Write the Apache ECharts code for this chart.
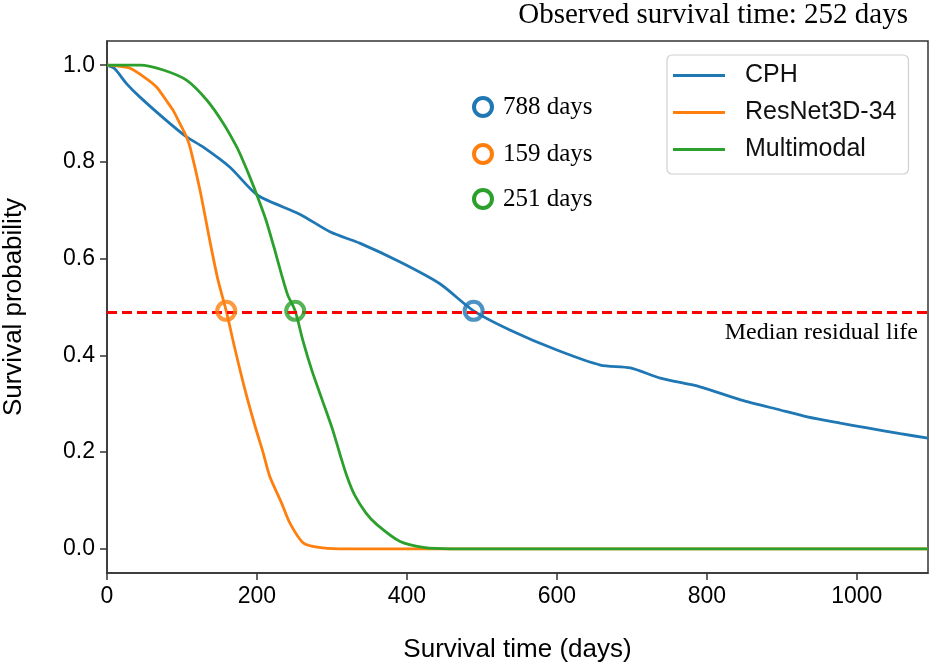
<!DOCTYPE html>
<html>
<head>
<meta charset="utf-8">
<script src="https://cdn.jsdelivr.net/npm/echarts@6/dist/echarts.min.js"></script>
<style>html,body{margin:0;padding:0;background:#fff}#c{width:943px;height:670px}</style>
</head>
<body>
<div id="c"></div>
<script>
// ---- data ----
var seriesNames = ['CPH', 'ResNet3D-34', 'Multimodal'];
var cphDays = [0, 10, 26, 44, 79, 106, 128, 164, 201, 257, 298, 337, 391, 444, 489, 538, 600, 658, 698, 738, 791, 845, 898, 934, 978, 1014, 1058, 1095];
var cphSurv = [1.0, 0.993, 0.962, 0.934, 0.886, 0.852, 0.831, 0.789, 0.731, 0.692, 0.655, 0.632, 0.593, 0.548, 0.492, 0.452, 0.411, 0.380, 0.374, 0.353, 0.335, 0.308, 0.287, 0.273, 0.260, 0.250, 0.238, 0.229];
var resDays = [0, 15, 30, 50, 66, 80, 88, 97, 106, 111, 124, 137, 148, 159, 171, 184, 197, 208, 217, 233, 244, 262, 288, 320, 1095];
var resSurv = [1.0, 0.998, 0.994, 0.975, 0.955, 0.925, 0.907, 0.880, 0.852, 0.829, 0.742, 0.638, 0.556, 0.492, 0.411, 0.329, 0.256, 0.200, 0.150, 0.094, 0.053, 0.012, 0.002, 0.0, 0.0];
var mmDays = [0, 44, 75, 106, 133, 155, 173, 181, 191, 201, 212, 223, 233, 241, 251, 261, 273, 287, 301, 311, 320, 330, 345, 360, 391, 422, 458, 1095];
var mmSurv = [1.0, 1.0, 0.99, 0.969, 0.928, 0.880, 0.831, 0.804, 0.767, 0.727, 0.680, 0.622, 0.566, 0.525, 0.492, 0.432, 0.370, 0.308, 0.246, 0.194, 0.150, 0.112, 0.075, 0.050, 0.015, 0.003, 0.0, 0.0];
var medianLevel = 0.492;
var medianDays = [489, 159, 251];
var annotationTexts = ['788 days', '159 days', '251 days'];
var yTicks = [0, 0.2, 0.4, 0.6, 0.8, 1.0];
var xTicks = [0, 200, 400, 600, 800, 1000];
var titleText = 'Observed survival time: 252 days';
var medianText = 'Median residual life';
var colors = ['#1f77b4', '#ff7f0e', '#2ca02c'];

function pairs(xs, ys) { return xs.map(function (x, i) { return [x, ys[i]]; }); }
var curves = [pairs(cphDays, cphSurv), pairs(resDays, resSurv), pairs(mmDays, mmSurv)];

var chart = echarts.init(document.getElementById('c'), null, { renderer: 'canvas' });
var sans = 'Liberation Sans, Arial, sans-serif';
var serif = 'Liberation Serif, Times New Roman, serif';

var series = [];
curves.forEach(function (d, i) {
  var s = {
    name: seriesNames[i], type: 'line', data: d, showSymbol: false, symbol: 'none',
    smooth: 0.25,
    lineStyle: { color: colors[i], width: 2.8 }, itemStyle: { color: colors[i] },
    z: 3, silent: true
  };
  if (i === 0) {
    s.markLine = {
      silent: true, symbol: 'none', animation: false,
      label: { show: false },
      lineStyle: { color: '#ff0000', width: 3, type: [10, 5] },
      data: [{ yAxis: medianLevel }]
    };
  }
  series.push(s);
});
medianDays.forEach(function (d, i) {
  series.push({
    name: 'median' + i, type: 'scatter', data: [[d, medianLevel]],
    symbol: 'circle', symbolSize: 18, z: 5, silent: true,
    itemStyle: { color: 'rgba(255,255,255,0)', borderColor: colors[i], borderWidth: 4 }
  });
});

var graphics = [
  { type: 'text', x: 908, y: 15, style: { text: titleText, font: '29px ' + serif, fill: '#000', textAlign: 'right', textVerticalAlign: 'middle' } },
  { type: 'text', x: 918, y: 333, style: { text: medianText, font: '24px ' + serif, fill: '#000', textAlign: 'right', textVerticalAlign: 'middle' } }
];
var annY = [107, 154, 199];
annotationTexts.forEach(function (t, i) {
  graphics.push({ type: 'circle', shape: { cx: 483, cy: annY[i], r: 9 }, style: { fill: 'none', stroke: colors[i], lineWidth: 4 } });
  graphics.push({ type: 'text', x: 503, y: annY[i], style: { text: t, font: '25px ' + serif, fill: '#000', textAlign: 'left', textVerticalAlign: 'middle' } });
});

chart.setOption({
  animation: false,
  backgroundColor: '#fff',
  grid: { left: 107, right: 15, top: 41, bottom: 97, outerBoundsMode: 'none', containLabel: false, show: true, borderColor: '#333', borderWidth: 1.5, backgroundColor: 'transparent' },
  legend: {
    data: seriesNames, orient: 'vertical', left: 667, top: 55,
    icon: 'rect', itemWidth: 52, itemHeight: 3, itemGap: 12,
    selectedMode: false,
    padding: [8, 12, 12, 6],
    borderColor: '#d0d0d0', borderWidth: 1.2, borderRadius: 5, backgroundColor: '#fff',
    textStyle: { fontFamily: sans, fontSize: 25, color: '#111', lineHeight: 24, padding: [0, 0, 0, 15] }
  },
  xAxis: {
    type: 'value', min: 0, max: 1095,
    name: 'Survival time (days)', nameLocation: 'middle', nameGap: 64,
    nameTextStyle: { fontFamily: sans, fontSize: 26, color: '#000' },
    axisLine: { show: true, onZero: false, lineStyle: { color: '#333', width: 1.5 } },
    axisTick: { show: true, length: 7, customValues: xTicks, lineStyle: { color: '#333', width: 1.5 } },
    axisLabel: { fontFamily: sans, fontSize: 23, color: '#000', margin: 12, customValues: xTicks,
      formatter: function (v) { return String(v); } },
    splitLine: { show: false }
  },
  yAxis: {
    type: 'value', min: -0.05, max: 1.05,
    name: 'Survival probability', nameLocation: 'middle', nameGap: 80,
    nameTextStyle: { fontFamily: sans, fontSize: 26, color: '#000' },
    axisLine: { show: true, onZero: false, lineStyle: { color: '#333', width: 1.5 } },
    axisTick: { show: true, length: 7, customValues: yTicks, lineStyle: { color: '#333', width: 1.5 } },
    axisLabel: { fontFamily: sans, fontSize: 23, color: '#000', margin: 12, customValues: yTicks,
      formatter: function (v) { return v.toFixed(1); } },
    splitLine: { show: false }
  },
  series: series,
  graphic: graphics
});
</script>
</body>
</html>
